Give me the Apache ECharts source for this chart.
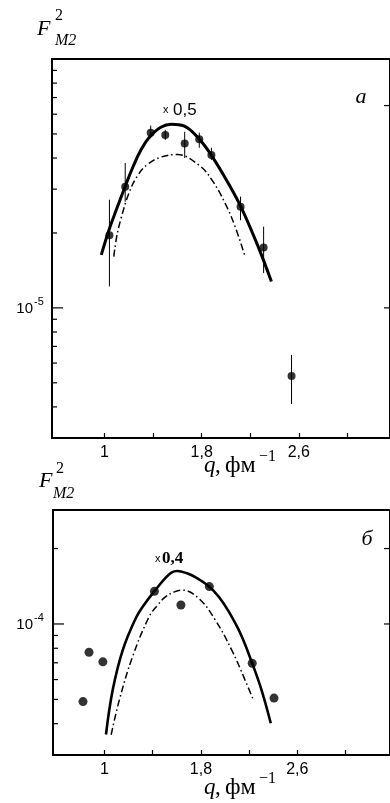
<!DOCTYPE html>
<html>
<head>
<meta charset="utf-8">
<script src="https://cdn.jsdelivr.net/npm/echarts@6/dist/echarts.min.js"></script>
<style>
  html, body { margin: 0; padding: 0; background: #fff; }
  #chart { width: 390px; height: 803px; }
</style>
</head>
<body>
<div id="chart"></div>
<script>
// panel "а": measured points with error bars
const qA = [1.04, 1.17, 1.38, 1.50, 1.66, 1.78, 1.88, 2.12, 2.31, 2.54];
const fA = [1.96e-5, 3.07e-5, 5.06e-5, 4.95e-5, 4.58e-5, 4.76e-5, 4.11e-5, 2.55e-5, 1.75e-5, 5.33e-6];
const fALo = [1.22e-5, 2.67e-5, 4.8e-5, 4.73e-5, 4.0e-5, 4.4e-5, 3.93e-5, 2.25e-5, 1.38e-5, 4.11e-6];
const fAHi = [2.72e-5, 3.82e-5, 5.4e-5, 5.19e-5, 5.1e-5, 5.06e-5, 4.4e-5, 2.8e-5, 2.12e-5, 6.47e-6];
// panel "а": theory curves
const solidAq = [0.973, 1.041, 1.109, 1.171, 1.237, 1.30, 1.367, 1.463, 1.553, 1.653, 1.776, 1.884, 2.020, 2.129, 2.265, 2.374];
const solidAf = [1.633e-5, 2.089e-5, 2.570e-5, 3.090e-5, 3.715e-5, 4.315e-5, 4.842e-5, 5.321e-5, 5.470e-5, 5.383e-5,
                 4.786e-5, 4.074e-5, 3.162e-5, 2.512e-5, 1.762e-5, 1.276e-5];
const dashAq = [1.076, 1.100, 1.136, 1.20, 1.27, 1.35, 1.46, 1.60, 1.776, 1.884, 1.993, 2.075, 2.157];
const dashAf = [1.607e-5, 1.932e-5, 2.291e-5, 2.884e-5, 3.388e-5, 3.758e-5, 4.027e-5, 4.130e-5, 3.750e-5, 3.266e-5,
                2.630e-5, 2.123e-5, 1.607e-5];

// panel "б"
const qB = [0.821, 0.871, 0.986, 1.414, 1.634, 1.870, 2.226, 2.407];
const fB = [4.9e-5, 7.71e-5, 7.06e-5, 1.35e-4, 1.19e-4, 1.41e-4, 6.97e-5, 5.06e-5];
const solidBq = [1.012, 1.068, 1.151, 1.261, 1.33, 1.414, 1.508, 1.555, 1.603, 1.68, 1.76, 1.870, 1.95, 2.029, 2.13, 2.226, 2.303, 2.380];
const solidBf = [3.622e-5, 5.458e-5, 7.870e-5, 1.059e-4, 1.197e-4, 1.352e-4, 1.531e-4, 1.603e-4, 1.626e-4, 1.596e-4,
                 1.531e-4, 1.409e-4, 1.282e-4, 1.125e-4, 9.12e-5, 6.966e-5, 5.458e-5, 4.018e-5];
const dashBq = [1.055, 1.123, 1.233, 1.370, 1.44, 1.508, 1.58, 1.644, 1.782, 1.919, 2.056, 2.166, 2.235];
const dashBf = [3.614e-5, 4.977e-5, 7.413e-5, 1.069e-4, 1.189e-4, 1.285e-4, 1.343e-4, 1.365e-4, 1.265e-4, 1.038e-4,
                7.87e-5, 5.984e-5, 4.977e-5];

// ticks
const xTicks = [1, 1.4, 1.8, 2.2, 2.6, 3.0];
const xLabels = [1, 1.8, 2.6];
const yMajorA = [1e-5];
const yMinorA = [4e-6, 5e-6, 6e-6, 7e-6, 8e-6, 9e-6, 2e-5, 3e-5, 4e-5, 5e-5, 6e-5, 7e-5, 8e-5, 9e-5];
const yRightA = [1e-5, 6.5e-5];
const yMajorB = [1e-4];
const yMinorB = [4e-5, 5e-5, 6e-5, 7e-5, 8e-5, 9e-5, 2e-4];
const yRightB = [1e-4, 2e-4];

const xRangeA = [0.567, 3.351];
const xRangeB = [0.572, 3.370];

const SANS = 'Liberation Sans';
const SERIF = 'Liberation Serif';

function zip(a, b) { return a.map((v, i) => [v, b[i]]); }

function errRender(params, api) {
  const hi = api.coord([api.value(0), api.value(2)]);
  const lo = api.coord([api.value(0), api.value(1)]);
  return { type: 'line', shape: { x1: hi[0], y1: hi[1], x2: lo[0], y2: lo[1] },
           style: { stroke: '#000', lineWidth: 1 } };
}
function tickRender(params, api) {
  const p = api.coord([api.value(0), api.value(1)]);
  const len = api.value(2);
  return { type: 'line', shape: { x1: p[0], y1: p[1], x2: p[0] + len, y2: p[1] },
           style: { stroke: '#000', lineWidth: 1.2 } };
}
function ticks(idx, x, vals, len) {
  return { type: 'custom', xAxisIndex: idx, yAxisIndex: idx, renderItem: tickRender,
           data: vals.map(v => [x, v, len]), silent: true, z: 5 };
}

function xAxisFor(idx, range) {
  return {
    type: 'value', gridIndex: idx, min: range[0], max: range[1],
    axisLine: { show: false }, splitLine: { show: false },
    axisTick: { show: true, inside: true, length: 5, customValues: xTicks, lineStyle: { color: '#000', width: 1.2 } },
    axisLabel: { show: true, customValues: xLabels, margin: 7, color: '#000', fontSize: 16, fontFamily: SANS,
                 formatter: v => String(v).replace('.', ',') }
  };
}
function yAxisFor(idx, min, max) {
  return { type: 'log', logBase: 10, gridIndex: idx, min: min, max: max,
           axisLine: { show: false }, axisTick: { show: false }, axisLabel: { show: false }, splitLine: { show: false } };
}

const chart = echarts.init(document.getElementById('chart'));
const option = {
  animation: false,
  backgroundColor: '#fff',
  grid: [
    { left: 52, top: 59, width: 341, height: 379, show: true, borderColor: '#000', borderWidth: 2 },
    { left: 53, top: 510, width: 340, height: 245, show: true, borderColor: '#000', borderWidth: 2 }
  ],
  xAxis: [xAxisFor(0, xRangeA), xAxisFor(1, xRangeB)],
  yAxis: [yAxisFor(0, 3e-6, 1e-4), yAxisFor(1, 3e-5, 2.85e-4)],
  series: [
    { type: 'line', xAxisIndex: 0, yAxisIndex: 0, data: zip(solidAq, solidAf), showSymbol: false, smooth: 0.4,
      lineStyle: { color: '#000', width: 3 } },
    { type: 'line', xAxisIndex: 0, yAxisIndex: 0, data: zip(dashAq, dashAf), showSymbol: false, smooth: 0.4,
      lineStyle: { color: '#000', width: 1.5, type: [7, 3, 1.5, 3] } },
    { type: 'custom', xAxisIndex: 0, yAxisIndex: 0, renderItem: errRender,
      data: qA.map((q, i) => [q, fALo[i], fAHi[i]]), z: 3 },
    { type: 'scatter', xAxisIndex: 0, yAxisIndex: 0, data: zip(qA, fA), symbolSize: 8,
      itemStyle: { color: '#000' }, z: 4 },
    ticks(0, xRangeA[0], yMajorA, 11),
    ticks(0, xRangeA[0], yMinorA, 5),
    ticks(0, xRangeA[1], yRightA, -6),

    { type: 'line', xAxisIndex: 1, yAxisIndex: 1, data: zip(solidBq, solidBf), showSymbol: false, smooth: 0.4,
      lineStyle: { color: '#000', width: 2.6 } },
    { type: 'line', xAxisIndex: 1, yAxisIndex: 1, data: zip(dashBq, dashBf), showSymbol: false, smooth: 0.4,
      lineStyle: { color: '#000', width: 1.5, type: [7, 3, 1.5, 3] } },
    { type: 'scatter', xAxisIndex: 1, yAxisIndex: 1, data: zip(qB, fB), symbolSize: 9,
      itemStyle: { color: '#000' }, z: 4 },
    ticks(1, xRangeB[0], yMajorB, 11),
    ticks(1, xRangeB[0], yMinorB, 5),
    ticks(1, xRangeB[1], yRightB, -6)
  ]
};
chart.setOption(option);

function txt(x, y, text, font, align) {
  return { type: 'text', x: x, y: y, silent: true,
           style: { text: text, font: font, fill: '#000', textAlign: align || 'left', textVerticalAlign: 'middle' } };
}
const yA = chart.convertToPixel({ yAxisIndex: 0 }, 1e-5);
const yB = chart.convertToPixel({ yAxisIndex: 1 }, 1e-4);

chart.setOption({
  graphic: [
    // panel а
    txt(37, 29.5, 'F', 'italic 22px ' + SERIF),
    txt(55, 16, '2', '16px ' + SERIF),
    txt(55, 41, 'M2', 'italic 16px ' + SERIF),
    txt(361, 97, 'а', 'italic 22px ' + SERIF, 'center'),
    txt(163, 110, 'x', '11px ' + SANS),
    txt(173, 110, '0,5', '17px ' + SANS),
    txt(33, yA + 1, '10', '15px ' + SANS, 'right'),
    txt(34, yA - 6, '-5', '11px ' + SANS),
    txt(204, 466, 'q', 'italic 23px ' + SERIF),
    txt(215, 466, ',', '23px ' + SERIF),
    txt(225, 466, 'фм', '24px ' + SERIF),
    txt(259, 457, '−1', '16px ' + SERIF),
    // panel б
    txt(39, 481.5, 'F', 'italic 22px ' + SERIF),
    txt(56, 469, '2', '16px ' + SERIF),
    txt(53, 494, 'M2', 'italic 16px ' + SERIF),
    txt(367, 539.5, 'б', 'italic 22px ' + SERIF, 'center'),
    txt(155, 559, 'x', '11px ' + SANS),
    txt(162, 559, '0,4', 'bold 17px ' + SERIF),
    txt(33, yB + 1, '10', '15px ' + SANS, 'right'),
    txt(34, yB - 6, '-4', '11px ' + SANS),
    txt(204, 788, 'q', 'italic 23px ' + SERIF),
    txt(215, 788, ',', '23px ' + SERIF),
    txt(225, 788, 'фм', '24px ' + SERIF),
    txt(259, 779, '−1', '16px ' + SERIF)
  ]
});
</script>
</body>
</html>
